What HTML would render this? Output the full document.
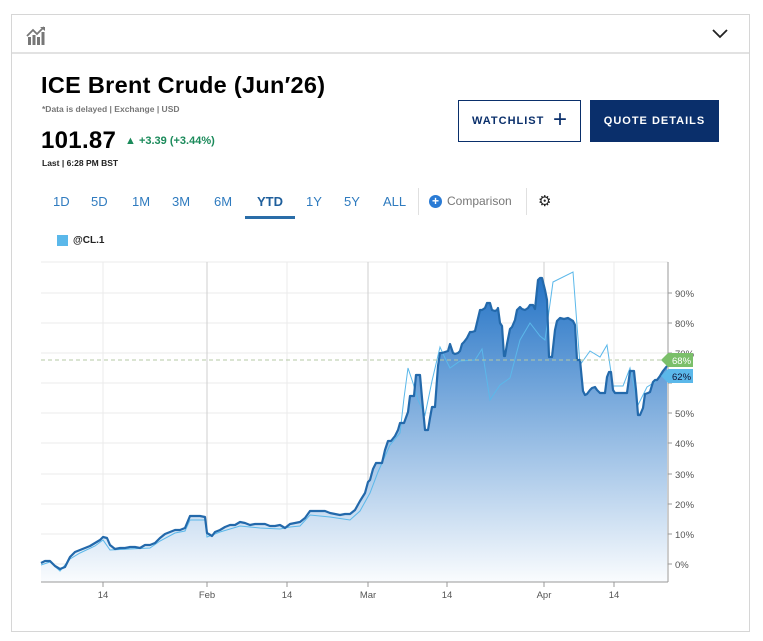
<!DOCTYPE html>
<html><head><meta charset="utf-8"><style>
body{margin:0;width:763px;height:641px;background:#fff;font-family:"Liberation Sans",sans-serif;position:relative;overflow:hidden}
.a{position:absolute}
.tab{position:absolute;top:194px;font-size:13px;color:#2f7bbf}
</style></head><body>
<div class="a" style="left:11px;top:14px;width:737px;height:616px;border:1px solid #d6d6d6"></div>
<div class="a" style="left:12px;top:52px;width:737px;height:2px;background:#e2e2e2"></div>
<svg class="a" style="left:26px;top:26px" width="20" height="20" viewBox="0 0 20 20"><g fill="#777"><rect x="2" y="11" width="3" height="8"/><rect x="6.5" y="9" width="3" height="10"/><rect x="11" y="11" width="3" height="8"/><rect x="15.5" y="6" width="3" height="13"/></g><path d="M1 10 L7 4 L11 8 L18 1" stroke="#777" stroke-width="1.8" fill="none"/><path d="M14 1 L19 1 L19 5" fill="#777"/></svg>
<svg class="a" style="left:711px;top:28px" width="18" height="12"><path d="M2 2 L9 9 L16 2" stroke="#222" stroke-width="1.8" fill="none"/></svg>
<div class="a" style="left:41px;top:72px;font-size:23.5px;font-weight:bold;color:#000;letter-spacing:0.3px">ICE Brent Crude (Jun′26)</div>
<div class="a" style="left:42px;top:104px;font-size:8.5px;color:#777;font-weight:bold">*Data is delayed | Exchange | USD</div>
<div class="a" style="left:41px;top:127px;font-size:24px;font-weight:bold;color:#000;letter-spacing:0.3px">101.87</div>
<div class="a" style="left:125px;top:135px;font-size:11px;font-weight:bold;color:#1a8a5a">▲ +3.39 (+3.44%)</div>
<div class="a" style="left:42px;top:158px;font-size:8.5px;font-weight:bold;color:#222">Last | 6:28 PM BST</div>
<div class="a" style="left:458px;top:100px;width:123px;height:42px;border:1px solid #0a2f6b;box-sizing:border-box"></div>
<div class="a" style="left:472px;top:115px;font-size:11px;font-weight:bold;color:#0a2f6b;letter-spacing:1px">WATCHLIST</div>
<div class="a" style="left:553px;top:106px;font-size:24px;color:#0a2f6b">+</div>
<div class="a" style="left:590px;top:100px;width:129px;height:42px;background:#0a2f6b;color:#fff;font-size:11px;font-weight:bold;letter-spacing:1px;line-height:42px;text-align:center">QUOTE DETAILS</div>
<div class="tab" style="left:53px">1D</div><div class="tab" style="left:91px">5D</div><div class="tab" style="left:132px">1M</div><div class="tab" style="left:172px">3M</div><div class="tab" style="left:214px">6M</div>
<div class="tab" style="left:257px;font-weight:bold;color:#1f5f9c">YTD</div>
<div class="a" style="left:245px;top:216px;width:50px;height:3px;background:#2a6da8"></div>
<div class="tab" style="left:306px">1Y</div><div class="tab" style="left:344px">5Y</div><div class="tab" style="left:383px">ALL</div>
<div class="a" style="left:418px;top:188px;width:1px;height:27px;background:#e0e0e0"></div>
<div class="a" style="left:526px;top:188px;width:1px;height:27px;background:#e0e0e0"></div>
<div class="a" style="left:429px;top:195px;width:13px;height:13px;border-radius:50%;background:#2a7bd5;color:#fff;font-size:12px;line-height:13px;text-align:center;font-weight:bold">+</div>
<div class="a" style="left:447px;top:194px;font-size:12px;color:#777">Comparison</div>
<div class="a" style="left:538px;top:192px;font-size:15px;color:#222">⚙</div>
<div class="a" style="left:57px;top:235px;width:11px;height:11px;background:#5bb8ea"></div>
<div class="a" style="left:73px;top:235px;font-size:10px;font-weight:bold;color:#222">@CL.1</div>
<svg class="a" style="left:0;top:0" width="763" height="641">
<defs><linearGradient id="g" x1="0" y1="0" x2="0" y2="1"><stop offset="0" stop-color="#2574c6"/><stop offset="1" stop-color="#fafcfe"/></linearGradient></defs>
<g stroke="#ebebeb" stroke-width="1">
<line x1="41" x2="668" y1="262" y2="262"/><line x1="41" x2="668" y1="293" y2="293"/><line x1="41" x2="668" y1="323" y2="323"/><line x1="41" x2="668" y1="353" y2="353"/><line x1="41" x2="668" y1="383" y2="383"/><line x1="41" x2="668" y1="413" y2="413"/><line x1="41" x2="668" y1="443" y2="443"/><line x1="41" x2="668" y1="474" y2="474"/><line x1="41" x2="668" y1="504" y2="504"/><line x1="41" x2="668" y1="534" y2="534"/><line x1="41" x2="668" y1="564" y2="564"/>
<line x1="103" x2="103" y1="262" y2="582"/><line x1="287" x2="287" y1="262" y2="582"/><line x1="447" x2="447" y1="262" y2="582"/><line x1="614" x2="614" y1="262" y2="582"/>
</g>
<g stroke="#cfcfcf"><line x1="207" x2="207" y1="262" y2="582"/><line x1="368" x2="368" y1="262" y2="582"/><line x1="544" x2="544" y1="262" y2="582"/></g>
<path fill="url(#g)" stroke="none" d="M41,563 L45,561 50,561 55,566 60,569 65,567 70,557 75,552 80,550 85,548 90,546 95,543 100,540 103,537 107,538 110,545 115,549 120,548 125,548 130,547 135,547 140,548 145,545 150,545 155,543 160,538 165,534 170,532 175,530 180,530 185,528 190,516 195,516 200,516 205,517 207,533 212,536 215,532 220,530 225,527 230,525 235,525 240,522 245,523 250,525 255,524 260,524 265,524 270,526 275,526 280,525 285,528 290,524 295,523 300,522 305,518 310,511 315,511 320,511 325,511 330,513 335,514 340,515 345,514 350,514 355,510 360,501 365,493 368,482 370,480 373,469 376,463 382,463 385,450 388,441 391,441 395,436 398,430 400,423 404,423 408,412 410,396 414,396 416,375 420,375 422,398 425,430 428,430 430,418 432,407 435,407 438,366 440,353 442,353 445,352 448,351 450,344 453,353 455,354 458,353 460,351 462,344 464,342 467,338 470,332 472,332 475,331 480,310 482,310 485,308 487,303 490,303 492,310 495,311 497,310 498,308 500,323 502,326 504,356 505,356 507,344 510,329 512,327 515,320 517,310 520,307 522,309 525,310 528,308 530,305 533,305 535,309 538,280 540,278 542,278 545,290 547,300 549,357 552,357 555,330 557,321 560,318 564,319 568,318 573,321 575,325 577,360 580,360 583,391 585,395 587,394 590,390 592,388 595,387 597,390 600,393 605,393 607,377 609,372 611,372 613,390 615,393 627,393 630,371 634,371 636,390 638,415 640,415 643,408 645,394 648,393 650,392 653,382 655,380 657,380 660,376 663,371 667,366 L667,582 L41,582 Z"/>
<path fill="none" stroke="#5bb8ea" stroke-width="1" d="M41,565 L50,562 60,571 70,559 80,553 95,546 103,540 110,550 130,549 150,548 160,541 175,533 185,531 190,520 205,520 207,537 220,532 240,526 260,528 280,529 290,527 300,526 310,515 330,517 350,520 360,511 370,493 378,472 390,445 400,433 404,398 408,368 413,383 418,400 425,415 432,381 440,347 445,358 450,368 460,361 475,360 482,349 490,400 500,385 510,378 520,340 530,323 540,336 545,340 553,282 573,272 580,365 590,351 600,357 607,345 613,386 623,386 630,368 638,405 647,387 655,382 667,366"/>
<path fill="none" stroke="#2369ab" stroke-width="2.2" stroke-linejoin="round" d="M41,563 L45,561 50,561 55,566 60,569 65,567 70,557 75,552 80,550 85,548 90,546 95,543 100,540 103,537 107,538 110,545 115,549 120,548 125,548 130,547 135,547 140,548 145,545 150,545 155,543 160,538 165,534 170,532 175,530 180,530 185,528 190,516 195,516 200,516 205,517 207,533 212,536 215,532 220,530 225,527 230,525 235,525 240,522 245,523 250,525 255,524 260,524 265,524 270,526 275,526 280,525 285,528 290,524 295,523 300,522 305,518 310,511 315,511 320,511 325,511 330,513 335,514 340,515 345,514 350,514 355,510 360,501 365,493 368,482 370,480 373,469 376,463 382,463 385,450 388,441 391,441 395,436 398,430 400,423 404,423 408,412 410,396 414,396 416,375 420,375 422,398 425,430 428,430 430,418 432,407 435,407 438,366 440,353 442,353 445,352 448,351 450,344 453,353 455,354 458,353 460,351 462,344 464,342 467,338 470,332 472,332 475,331 480,310 482,310 485,308 487,303 490,303 492,310 495,311 497,310 498,308 500,323 502,326 504,356 505,356 507,344 510,329 512,327 515,320 517,310 520,307 522,309 525,310 528,308 530,305 533,305 535,309 538,280 540,278 542,278 545,290 547,300 549,357 552,357 555,330 557,321 560,318 564,319 568,318 573,321 575,325 577,360 580,360 583,391 585,395 587,394 590,390 592,388 595,387 597,390 600,393 605,393 607,377 609,372 611,372 613,390 615,393 627,393 630,371 634,371 636,390 638,415 640,415 643,408 645,394 648,393 650,392 653,382 655,380 657,380 660,376 663,371 667,366"/>
<line x1="41" x2="668" y1="360" y2="360" stroke="#b5c9a5" stroke-dasharray="4,3"/>
<line x1="41" x2="668" y1="582" y2="582" stroke="#999"/>
<line x1="668" x2="668" y1="262" y2="582" stroke="#999"/>
<g stroke="#999"><line x1="103" x2="103" y1="582" y2="587"/><line x1="207" x2="207" y1="582" y2="587"/><line x1="287" x2="287" y1="582" y2="587"/><line x1="368" x2="368" y1="582" y2="587"/><line x1="447" x2="447" y1="582" y2="587"/><line x1="544" x2="544" y1="582" y2="587"/><line x1="614" x2="614" y1="582" y2="587"/>
<line x1="668" x2="672" y1="293" y2="293"/><line x1="668" x2="672" y1="323" y2="323"/><line x1="668" x2="672" y1="353" y2="353"/><line x1="668" x2="672" y1="383" y2="383"/><line x1="668" x2="672" y1="413" y2="413"/><line x1="668" x2="672" y1="443" y2="443"/><line x1="668" x2="672" y1="474" y2="474"/><line x1="668" x2="672" y1="504" y2="504"/><line x1="668" x2="672" y1="534" y2="534"/><line x1="668" x2="672" y1="564" y2="564"/></g>
<g font-family="Liberation Sans" font-size="9.5" fill="#555">
<text x="675" y="297">90%</text><text x="675" y="327">80%</text><text x="675" y="357">70%</text><text x="675" y="417">50%</text><text x="675" y="447">40%</text><text x="675" y="478">30%</text><text x="675" y="508">20%</text><text x="675" y="538">10%</text><text x="675" y="568">0%</text>
<text x="103" y="598" text-anchor="middle">14</text><text x="207" y="598" text-anchor="middle">Feb</text><text x="287" y="598" text-anchor="middle">14</text><text x="368" y="598" text-anchor="middle">Mar</text><text x="447" y="598" text-anchor="middle">14</text><text x="544" y="598" text-anchor="middle">Apr</text><text x="614" y="598" text-anchor="middle">14</text>
</g>
<path d="M661,360 L668,353 L693,353 L693,367 L668,367 Z" fill="#7bbf6a"/>
<text x="672" y="364" font-family="Liberation Sans" font-size="9.5" fill="#fff">68%</text>
<path d="M661,376 L668,369 L693,369 L693,383 L668,383 Z" fill="#5bb8ea"/>
<text x="672" y="380" font-family="Liberation Sans" font-size="9.5" fill="#113">62%</text>
</svg>
</body></html>
